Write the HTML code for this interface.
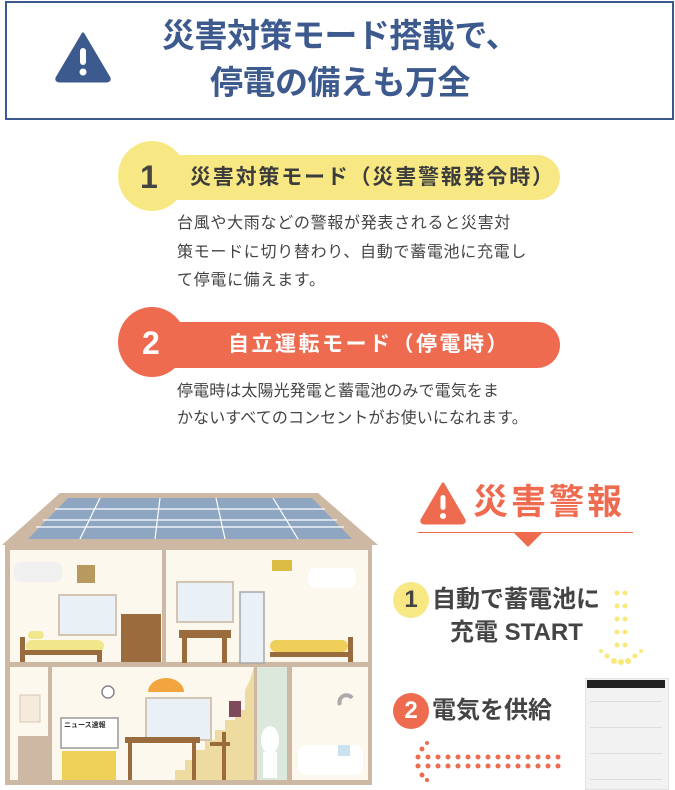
<!DOCTYPE html>
<html><head><meta charset="utf-8"><style>
body{margin:0;width:675px;height:788px;background:#fff;position:relative;overflow:hidden;font-family:"Liberation Sans","Noto Sans CJK JP",sans-serif;}
.a{position:absolute;white-space:nowrap;}
</style></head><body>
<div class="a" style="left:5px;top:1px;width:665px;height:115px;border:2px solid #3d5a8e;"></div>
<svg class="a" style="left:54px;top:31px" width="58" height="52" viewBox="0 0 58 52"><path d="M29 3 L55 47 Q56 50 52 50 L6 50 Q2 50 3 47 Z" fill="#3d5a8e" stroke="#3d5a8e" stroke-width="3" stroke-linejoin="round"/><rect x="26" y="17" width="6" height="17" rx="3" fill="#fff"/><circle cx="29" cy="41" r="3.5" fill="#fff"/></svg>
<div class="a" style="left:110px;width:460px;top:12px;text-align:center;font-size:33px;line-height:47px;font-weight:bold;color:#3d5a8e;letter-spacing:-0.5px;">災害対策モード搭載で、<br>停電の備えも万全</div>

<div class="a" style="left:140px;top:155px;width:420px;height:45px;border-radius:23px;background:#f7e884;"></div>
<div class="a" style="left:118px;top:141px;width:68px;height:70px;border-radius:50%;background:#f7e884;"></div>
<div class="a" style="left:140px;top:155px;font-size:32px;line-height:45px;font-weight:bold;color:#444;">1</div>
<div class="a" style="left:190px;top:155px;font-size:21px;line-height:45px;font-weight:bold;color:#3c3c3c;letter-spacing:1.8px;">災害対策モード（災害警報発令時）</div>
<div class="a" style="left:177px;top:210px;font-size:16px;line-height:28.5px;color:#444;letter-spacing:0.7px;">台風や大雨などの警報が発表されると災害対<br>策モードに切り替わり、自動で蓄電池に充電し<br>て停電に備えます。</div>

<div class="a" style="left:140px;top:322px;width:420px;height:46px;border-radius:23px;background:#ee6b50;"></div>
<div class="a" style="left:118px;top:307px;width:68px;height:70px;border-radius:50%;background:#ee6b50;"></div>
<div class="a" style="left:142px;top:320px;font-size:32px;line-height:46px;font-weight:bold;color:#fff;">2</div>
<div class="a" style="left:228px;top:322px;font-size:21px;line-height:46px;font-weight:bold;color:#fff;letter-spacing:2.5px;">自立運転モード（停電時）</div>
<div class="a" style="left:177px;top:378px;font-size:16px;line-height:27px;color:#444;letter-spacing:0.1px;">停電時は太陽光発電と蓄電池のみで電気をま<br>かないすべてのコンセントがお使いになれます。</div>

<!-- house -->
<svg class="a" style="left:0;top:480px" width="380" height="308" viewBox="0 0 380 308">
<path d="M60 13 L318 13 L378 65 L2 65 Z" fill="#cdb9a3"/>
<path d="M68 18 L312 18 L352 59 L28 59 Z" fill="#8ea6c1"/>
<g stroke="#fff" stroke-width="1.2"><line x1="55" y1="29" x2="325" y2="29"/><line x1="43" y1="40" x2="337" y2="40"/><line x1="36" y1="47" x2="344" y2="47"/><line x1="100" y1="18" x2="80" y2="59"/><line x1="160" y1="18" x2="155" y2="59"/><line x1="216" y1="18" x2="225" y2="59"/><line x1="273" y1="18" x2="298" y2="59"/></g>
<rect x="5" y="65" width="367" height="240" fill="#cdb9a3"/>
<rect x="10" y="70" width="152" height="112" fill="#fdf8ee"/>
<rect x="166" y="70" width="202" height="112" fill="#fdf8ee"/>
<rect x="10" y="187" width="38" height="113" fill="#fdf8ee"/>
<rect x="52" y="187" width="202" height="113" fill="#fdf8ee"/>
<rect x="257" y="187" width="30" height="113" fill="#dde8dc"/>
<rect x="292" y="187" width="76" height="113" fill="#fdf8ee"/>
<path d="M165 300 L175 300 L175 290 L185 290 L185 280 L195 280 L195 270 L205 270 L205 260 L215 260 L215 250 L225 250 L225 240 L235 240 L235 230 L245 230 L245 210 L250 200 L254 187 L254 300 Z" fill="#eddb9f"/>
<rect x="14" y="82" width="48" height="20" rx="7" fill="#f0f0f0"/>
<rect x="308" y="88" width="48" height="20" rx="7" fill="#fff"/>
<rect x="77" y="85" width="18" height="18" fill="#b99a5e"/>
<rect x="272" y="80" width="20" height="11" fill="#dbbd45"/>
<rect x="59" y="115" width="57" height="40" fill="#e9f1f7" stroke="#d4c4b3" stroke-width="2"/>
<rect x="177" y="102" width="56" height="40" fill="#e9f1f7" stroke="#d4c4b3" stroke-width="2"/>
<rect x="240" y="112" width="24" height="71" fill="#e9f1f7" stroke="#a8a8a8" stroke-width="1.5"/>
<rect x="121" y="134" width="40" height="48" fill="#9a6b3c"/>
<rect x="26" y="160" width="78" height="12" rx="6" fill="#f0e78c"/>
<rect x="28" y="151" width="16" height="8" rx="4" fill="#f0e78c"/>
<rect x="20" y="170" width="82" height="5" fill="#9a6b3c"/><rect x="20" y="157" width="5" height="25" fill="#9a6b3c"/><rect x="97" y="170" width="5" height="12" fill="#9a6b3c"/>
<rect x="179" y="150" width="52" height="8" fill="#9a6b3c"/><rect x="182" y="158" width="5" height="25" fill="#9a6b3c"/><rect x="222" y="158" width="5" height="25" fill="#9a6b3c"/>
<rect x="270" y="160" width="78" height="12" rx="6" fill="#efcf59"/>
<rect x="270" y="172" width="82" height="5" fill="#9a6b3c"/><rect x="348" y="157" width="5" height="25" fill="#9a6b3c"/>
<path d="M148 212 A18 14 0 0 1 184 212 Z" fill="#f2a53e"/>
<rect x="146" y="218" width="65" height="42" fill="#e9f1f7" stroke="#d4c4b3" stroke-width="2"/>
<rect x="20" y="215" width="20" height="27" fill="#f5eadb" stroke="#d9c8b5"/>
<rect x="18" y="256" width="30" height="44" fill="#cdb9a3"/>
<rect x="61" y="238" width="57" height="30" fill="#fff" stroke="#999" stroke-width="1.5"/>
<text x="64" y="247" font-size="7" font-weight="bold" fill="#333" font-family="Liberation Sans,Noto Sans CJK JP,sans-serif">ニュース速報</text>
<rect x="62" y="271" width="54" height="29" fill="#efd15a"/>
<rect x="125" y="257" width="75" height="6" fill="#9a6b3c"/><rect x="128" y="263" width="4" height="37" fill="#9a6b3c"/><rect x="192" y="263" width="4" height="37" fill="#9a6b3c"/>
<rect x="210" y="262" width="20" height="4" fill="#9a6b3c"/><rect x="222" y="252" width="4" height="48" fill="#9a6b3c"/>
<rect x="229" y="221" width="12" height="16" fill="#7f4b5a"/>
<ellipse cx="270" cy="260" rx="9" ry="14" fill="#fff"/><rect x="263" y="272" width="14" height="26" fill="#fff"/>
<rect x="298" y="265" width="65" height="30" rx="8" fill="#fff"/><rect x="338" y="265" width="12" height="11" fill="#c8e2f0"/>
<circle cx="108" cy="212" r="6" fill="#fff" stroke="#888" stroke-width="1.5"/>
<path d="M340 225 A7 7 0 0 1 352 218" stroke="#aaa" stroke-width="4" fill="none"/>
</svg>

<!-- right side -->
<svg class="a" style="left:418px;top:480px" width="50" height="46" viewBox="0 0 50 46"><path d="M25 4 L46 40 Q47 43 43 43 L7 43 Q3 43 4 40 Z" fill="#ee6b50" stroke="#ee6b50" stroke-width="3" stroke-linejoin="round"/><rect x="22.5" y="15" width="5" height="15" rx="2.5" fill="#fff"/><circle cx="25" cy="36" r="3" fill="#fff"/></svg>
<div class="a" style="left:473px;top:480px;font-size:35px;line-height:46px;font-weight:bold;color:#ee6b50;letter-spacing:3px;">災害警報</div>
<div class="a" style="left:418px;top:532px;width:215px;height:1px;background:#ee6b50;"></div>
<div class="a" style="left:514px;top:533px;width:0;height:0;border-left:14px solid transparent;border-right:14px solid transparent;border-top:14px solid #ee6b50;"></div>

<div class="a" style="left:393px;top:582px;width:36px;height:36px;border-radius:50%;background:#f7e884;color:#444;font-size:24px;font-weight:bold;line-height:36px;text-align:center;">1</div>
<div class="a" style="left:432px;top:582px;font-size:24px;line-height:36px;font-weight:bold;color:#444;">自動で蓄電池に</div>
<div class="a" style="left:450px;top:615px;font-size:24px;line-height:36px;font-weight:bold;color:#444;">充電 START</div>
<div class="a" style="left:393px;top:693px;width:36px;height:36px;border-radius:50%;background:#ee6b50;color:#fff;font-size:24px;font-weight:bold;line-height:36px;text-align:center;">2</div>
<div class="a" style="left:432px;top:693px;font-size:24px;line-height:36px;font-weight:bold;color:#444;">電気を供給</div>

<svg class="a" style="left:595px;top:590px" width="60" height="80" viewBox="0 0 60 80">
<g fill="#f9e97a"><circle cx="22" cy="3" r="2.5"/><circle cx="30" cy="3" r="2.5"/><circle cx="22" cy="16" r="2.5"/><circle cx="30" cy="16" r="2.5"/><circle cx="22" cy="29" r="2.5"/><circle cx="30" cy="29" r="2.5"/><circle cx="22" cy="42" r="2.5"/><circle cx="30" cy="42" r="2.5"/><circle cx="22" cy="55" r="2.5"/><circle cx="30" cy="55" r="2.5"/><circle cx="6" cy="61" r="2"/><circle cx="12" cy="66" r="2.5"/><circle cx="46" cy="61" r="2"/><circle cx="40" cy="66" r="2.5"/><circle cx="19" cy="71" r="3"/><circle cx="33" cy="71" r="3"/><circle cx="26" cy="72" r="3"/></g></svg>

<div class="a" style="left:585px;top:678px;width:82px;height:110px;background:#f2f2f2;border:1px solid #e2e2e2;"></div>
<div class="a" style="left:587px;top:680px;width:78px;height:8px;background:#222;"></div>
<div class="a" style="left:590px;top:701px;width:72px;height:1px;background:#ddd;"></div>
<div class="a" style="left:590px;top:727px;width:72px;height:1px;background:#ddd;"></div>
<div class="a" style="left:590px;top:753px;width:72px;height:1px;background:#ddd;"></div>
<div class="a" style="left:590px;top:779px;width:72px;height:1px;background:#ddd;"></div>

<svg class="a" style="left:410px;top:735px" width="160" height="53" viewBox="0 0 160 53">
<g fill="#ee6b50"><circle cx="17" cy="8" r="2"/><circle cx="12" cy="14" r="2.5"/><circle cx="17" cy="45" r="2"/><circle cx="12" cy="40" r="2.5"/>
<circle cx="8" cy="22" r="2.5"/><circle cx="8" cy="31" r="2.5"/>
<circle cx="18" cy="22" r="2.5"/><circle cx="18" cy="31" r="2.5"/><circle cx="28" cy="22" r="2.5"/><circle cx="28" cy="31" r="2.5"/><circle cx="38" cy="22" r="2.5"/><circle cx="38" cy="31" r="2.5"/><circle cx="48" cy="22" r="2.5"/><circle cx="48" cy="31" r="2.5"/><circle cx="58" cy="22" r="2.5"/><circle cx="58" cy="31" r="2.5"/><circle cx="68" cy="22" r="2.5"/><circle cx="68" cy="31" r="2.5"/><circle cx="78" cy="22" r="2.5"/><circle cx="78" cy="31" r="2.5"/><circle cx="88" cy="22" r="2.5"/><circle cx="88" cy="31" r="2.5"/><circle cx="98" cy="22" r="2.5"/><circle cx="98" cy="31" r="2.5"/><circle cx="108" cy="22" r="2.5"/><circle cx="108" cy="31" r="2.5"/><circle cx="118" cy="22" r="2.5"/><circle cx="118" cy="31" r="2.5"/><circle cx="128" cy="22" r="2.5"/><circle cx="128" cy="31" r="2.5"/><circle cx="138" cy="22" r="2.5"/><circle cx="138" cy="31" r="2.5"/><circle cx="148" cy="22" r="2.5"/><circle cx="148" cy="31" r="2.5"/></g></svg>
</body></html>
